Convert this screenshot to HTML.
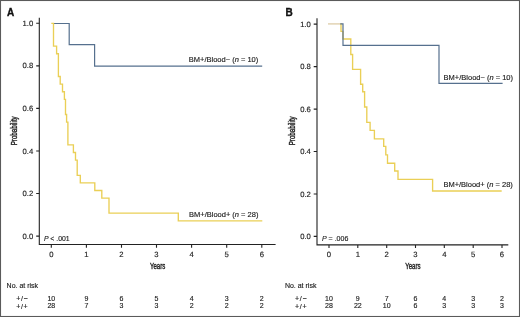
<!DOCTYPE html>
<html><head><meta charset="utf-8">
<style>
html,body{margin:0;padding:0;background:#fff;}
body{width:520px;height:317px;overflow:hidden;position:relative;}
svg{position:absolute;left:0;top:0;will-change:transform;}
text{font-family:"Liberation Sans",sans-serif;fill:#222;stroke:#222;stroke-width:0.15px;}
</style></head><body>
<svg width="520" height="317" viewBox="0 0 520 317">
<rect x="0.5" y="0.5" width="519" height="316" fill="#fff" stroke="#5a5a5a" stroke-width="1.1"/>

<!-- ============ PANEL A ============ -->
<text x="7" y="15.5" font-size="10" font-weight="bold" style="fill:#111;stroke:#111;stroke-width:0.35px">A</text>
<g stroke="#222" stroke-width="1.1" fill="none">
  <path d="M39.3,17.8 V244.55 H275.6"/>
  <path d="M36.2,23.3 H39.3 M36.2,65.9 H39.3 M36.2,108.4 H39.3 M36.2,151 H39.3 M36.2,193.5 H39.3 M36.2,236.1 H39.3"/>
  <path d="M51.3,244.55 V247.7 M86.4,244.55 V247.7 M121.5,244.55 V247.7 M156.5,244.55 V247.7 M191.6,244.55 V247.7 M226.7,244.55 V247.7 M261.8,244.55 V247.7"/>
</g>
<g font-size="7.7" text-anchor="end" style="text-rendering:geometricPrecision">
  <text x="33.2" y="25.8">1.0</text>
  <text x="33.2" y="68.4">0.8</text>
  <text x="33.2" y="110.9">0.6</text>
  <text x="33.2" y="153.5">0.4</text>
  <text x="33.2" y="196">0.2</text>
  <text x="33.2" y="238.6">0.0</text>
</g>
<g font-size="7.7" text-anchor="middle" style="text-rendering:geometricPrecision">
  <text x="51.3" y="256.9">0</text>
  <text x="86.4" y="256.8">1</text>
  <text x="121.5" y="256.8">2</text>
  <text x="156.5" y="256.8">3</text>
  <text x="191.6" y="256.8">4</text>
  <text x="226.7" y="256.8">5</text>
  <text x="261.8" y="256.8">6</text>
</g>
<text font-size="8.3" text-anchor="middle" transform="translate(157.6,269.1) scale(0.73,1)" style="stroke-width:0.4px">Years</text>
<text font-size="8.3" text-anchor="middle" transform="translate(17.4,130.8) rotate(-90) scale(0.75,1)" style="stroke-width:0.4px">Probability</text>
<text x="43.9" y="240.8" font-size="6.85"><tspan font-style="italic">P</tspan> &lt; .001</text>

<path d="M52,23.5 H69.2 V44.7 H94.6 V66.2 H262.2" fill="none" stroke="#56708e" stroke-width="1.2"/>
<path d="M51.3,23.3 H53.5 V46.1 H56.6 V53.7 H58.4 V76.5 H60.2 V84.1 H62.5 V91.7 H64.4 V99.3 H65.5 V114.5 H66.6 V122.1 H67.9 V144.9 H73.4 V152.5 H75.5 V160.1 H77.2 V175.3 H80.3 V182.9 H94.8 V190.5 H101.8 V198.1 H109 V213.1 H178.3 V220.9 H262.3" fill="none" stroke="#eacf56" stroke-width="1.35"/>

<text x="188.8" y="62.3" font-size="7.5">BM+/Blood− (<tspan font-style="italic">n</tspan> = 10)</text>
<text x="189" y="217.2" font-size="7.5">BM+/Blood+ (<tspan font-style="italic">n</tspan> = 28)</text>

<text x="6.6" y="287.6" font-size="7">No. at risk</text>
<g font-size="7">
  <text x="16.2" y="300.9" letter-spacing="0.7">+/−</text>
  <text x="16.2" y="309.2" letter-spacing="0.7">+/+</text>
</g>
<g font-size="7" text-anchor="middle">
  <text x="51.3" y="300.5">10</text><text x="86.4" y="300.5">9</text><text x="121.5" y="300.5">6</text><text x="156.5" y="300.5">5</text><text x="191.6" y="300.5">4</text><text x="226.7" y="300.5">3</text><text x="261.8" y="300.5">2</text>
  <text x="51.3" y="308.3">28</text><text x="86.4" y="308.3">7</text><text x="121.5" y="308.3">3</text><text x="156.5" y="308.3">3</text><text x="191.6" y="308.3">2</text><text x="226.7" y="308.3">2</text><text x="261.8" y="308.3">2</text>
</g>

<!-- ============ PANEL B ============ -->
<text x="285.4" y="15.7" font-size="10" font-weight="bold" style="fill:#111;stroke:#111;stroke-width:0.35px">B</text>
<g stroke="#222" stroke-width="1.1" fill="none">
  <path d="M317,18.2 V244.9 H508.3"/>
  <path d="M313.7,24.1 H317 M313.7,66.6 H317 M313.7,109.1 H317 M313.7,151.5 H317 M313.7,194 H317 M313.7,236.4 H317"/>
  <path d="M329,244.9 V247.9 M357.8,244.9 V247.9 M386.7,244.9 V247.9 M415.5,244.9 V247.9 M444.3,244.9 V247.9 M473.2,244.9 V247.9 M502,244.9 V247.9"/>
</g>
<g font-size="7.7" text-anchor="end" style="text-rendering:geometricPrecision">
  <text x="310.9" y="26.7">1.0</text>
  <text x="310.9" y="69.1">0.8</text>
  <text x="310.9" y="111.6">0.6</text>
  <text x="310.9" y="154">0.4</text>
  <text x="310.9" y="196.5">0.2</text>
  <text x="310.9" y="238.9">0.0</text>
</g>
<g font-size="7.7" text-anchor="middle" style="text-rendering:geometricPrecision">
  <text x="329" y="257.2">0</text>
  <text x="357.8" y="257.2">1</text>
  <text x="386.7" y="257.2">2</text>
  <text x="415.5" y="257.2">3</text>
  <text x="444.3" y="257.2">4</text>
  <text x="473.2" y="257.2">5</text>
  <text x="502" y="257.2">6</text>
</g>
<text font-size="8.3" text-anchor="middle" transform="translate(412.9,269.2) scale(0.73,1)" style="stroke-width:0.4px">Years</text>
<text font-size="8.3" text-anchor="middle" transform="translate(294.5,130.8) rotate(-90) scale(0.75,1)" style="stroke-width:0.4px">Probability</text>
<text x="322" y="240.6" font-size="7"><tspan font-style="italic">P</tspan> = .006</text>

<path d="M340,23.9 H341 V31.4 H343 V39 H350.8 V54.5 H352.6 V69.3 H360.6 V84.2 H362.7 V91.7 H364.6 V107 H366.8 V122.3 H370.1 V130.4 H374.4 V138.9 H383.7 V146.4 H385.8 V154.9 H387.5 V163.2 H394.7 V171 H398 V179.3 H432.6 V191 H501.7" fill="none" stroke="#eacf56" stroke-width="1.35"/>
<path d="M340,23.9 H343 V45.3 H439 V83.3 H502.6" fill="none" stroke="#56708e" stroke-width="1.2"/>

<path d="M328,23.9 H340.4" fill="none" stroke="#e0d0ae" stroke-width="1.4"/>
<text x="443.6" y="79.5" font-size="7.5">BM+/Blood− (<tspan font-style="italic">n</tspan> = 10)</text>
<text x="443.4" y="187.3" font-size="7.5">BM+/Blood+ (<tspan font-style="italic">n</tspan> = 28)</text>

<text x="284.9" y="287.6" font-size="7">No. at risk</text>
<g font-size="7">
  <text x="295" y="300.9" letter-spacing="0.7">+/−</text>
  <text x="295" y="309.2" letter-spacing="0.7">+/+</text>
</g>
<g font-size="7" text-anchor="middle">
  <text x="329" y="300.5">10</text><text x="357.8" y="300.5">9</text><text x="386.7" y="300.5">7</text><text x="415.5" y="300.5">6</text><text x="444.3" y="300.5">4</text><text x="473.2" y="300.5">3</text><text x="502" y="300.5">2</text>
  <text x="329" y="308.3">28</text><text x="357.8" y="308.3">22</text><text x="386.7" y="308.3">10</text><text x="415.5" y="308.3">6</text><text x="444.3" y="308.3">3</text><text x="473.2" y="308.3">3</text><text x="502" y="308.3">3</text>
</g>
</svg>
</body></html>
